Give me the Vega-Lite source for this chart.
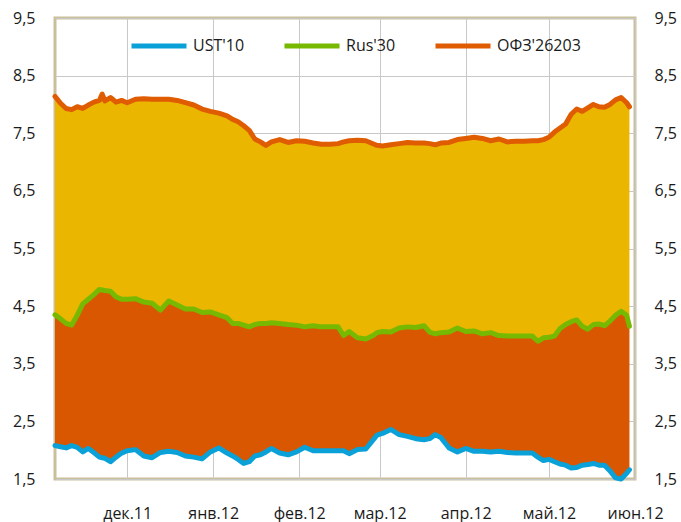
{
  "$schema": "https://vega.github.io/schema/vega-lite/v6.json",
  "autosize": {"type": "none"},
  "padding": {"left": 55, "top": 18, "right": 46, "bottom": 43},
  "width": 580,
  "height": 461,
  "background": "white",
  "data": {"values": [
    {"date":"2011-11-05","ust":2.08,"rus":4.35,"ofz":8.14},
    {"date":"2011-11-07","ust":2.06,"rus":4.28,"ofz":8.02},
    {"date":"2011-11-09","ust":2.04,"rus":4.20,"ofz":7.93},
    {"date":"2011-11-11","ust":2.08,"rus":4.17,"ofz":7.91},
    {"date":"2011-11-13","ust":2.05,"rus":4.34,"ofz":7.96},
    {"date":"2011-11-15","ust":1.97,"rus":4.54,"ofz":7.93},
    {"date":"2011-11-17","ust":2.03,"rus":4.62,"ofz":7.99},
    {"date":"2011-11-19","ust":1.96,"rus":4.70,"ofz":8.04},
    {"date":"2011-11-21","ust":1.88,"rus":4.79,"ofz":8.07},
    {"date":"2011-11-22","ust":1.87,"rus":4.78,"ofz":8.18},
    {"date":"2011-11-23","ust":1.86,"rus":4.77,"ofz":8.06},
    {"date":"2011-11-25","ust":1.80,"rus":4.76,"ofz":8.12},
    {"date":"2011-11-27","ust":1.88,"rus":4.66,"ofz":8.04},
    {"date":"2011-11-29","ust":1.95,"rus":4.62,"ofz":8.07},
    {"date":"2011-12-01","ust":1.99,"rus":4.62,"ofz":8.03},
    {"date":"2011-12-04","ust":2.01,"rus":4.63,"ofz":8.09},
    {"date":"2011-12-07","ust":1.90,"rus":4.57,"ofz":8.10},
    {"date":"2011-12-10","ust":1.87,"rus":4.55,"ofz":8.09},
    {"date":"2011-12-13","ust":1.96,"rus":4.43,"ofz":8.09},
    {"date":"2011-12-16","ust":1.98,"rus":4.59,"ofz":8.09},
    {"date":"2011-12-19","ust":1.96,"rus":4.52,"ofz":8.07},
    {"date":"2011-12-22","ust":1.90,"rus":4.45,"ofz":8.03},
    {"date":"2011-12-25","ust":1.88,"rus":4.45,"ofz":7.99},
    {"date":"2011-12-28","ust":1.85,"rus":4.39,"ofz":7.92},
    {"date":"2011-12-31","ust":1.97,"rus":4.40,"ofz":7.88},
    {"date":"2012-01-03","ust":2.04,"rus":4.35,"ofz":7.85},
    {"date":"2012-01-06","ust":1.95,"rus":4.30,"ofz":7.80},
    {"date":"2012-01-08","ust":1.90,"rus":4.20,"ofz":7.74},
    {"date":"2012-01-10","ust":1.84,"rus":4.20,"ofz":7.70},
    {"date":"2012-01-12","ust":1.77,"rus":4.17,"ofz":7.63},
    {"date":"2012-01-14","ust":1.80,"rus":4.14,"ofz":7.55},
    {"date":"2012-01-16","ust":1.90,"rus":4.18,"ofz":7.40},
    {"date":"2012-01-18","ust":1.92,"rus":4.20,"ofz":7.35},
    {"date":"2012-01-20","ust":1.97,"rus":4.20,"ofz":7.29},
    {"date":"2012-01-22","ust":2.03,"rus":4.21,"ofz":7.35},
    {"date":"2012-01-25","ust":1.95,"rus":4.20,"ofz":7.39},
    {"date":"2012-01-28","ust":1.92,"rus":4.18,"ofz":7.34},
    {"date":"2012-01-31","ust":1.97,"rus":4.17,"ofz":7.37},
    {"date":"2012-02-03","ust":2.05,"rus":4.14,"ofz":7.36},
    {"date":"2012-02-06","ust":1.99,"rus":4.16,"ofz":7.33},
    {"date":"2012-02-09","ust":1.99,"rus":4.14,"ofz":7.31},
    {"date":"2012-02-12","ust":1.99,"rus":4.14,"ofz":7.31},
    {"date":"2012-02-15","ust":1.99,"rus":4.14,"ofz":7.32},
    {"date":"2012-02-17","ust":1.99,"rus":3.99,"ofz":7.35},
    {"date":"2012-02-19","ust":1.94,"rus":4.06,"ofz":7.37},
    {"date":"2012-02-22","ust":2.01,"rus":3.95,"ofz":7.38},
    {"date":"2012-02-25","ust":2.02,"rus":3.93,"ofz":7.37},
    {"date":"2012-02-28","ust":2.20,"rus":4.00,"ofz":7.31},
    {"date":"2012-02-29","ust":2.26,"rus":4.04,"ofz":7.29},
    {"date":"2012-03-02","ust":2.29,"rus":4.06,"ofz":7.28},
    {"date":"2012-03-05","ust":2.36,"rus":4.05,"ofz":7.30},
    {"date":"2012-03-08","ust":2.27,"rus":4.12,"ofz":7.32},
    {"date":"2012-03-11","ust":2.24,"rus":4.14,"ofz":7.34},
    {"date":"2012-03-14","ust":2.20,"rus":4.13,"ofz":7.33},
    {"date":"2012-03-17","ust":2.18,"rus":4.16,"ofz":7.33},
    {"date":"2012-03-19","ust":2.20,"rus":4.05,"ofz":7.32},
    {"date":"2012-03-21","ust":2.27,"rus":4.02,"ofz":7.30},
    {"date":"2012-03-23","ust":2.22,"rus":4.04,"ofz":7.33},
    {"date":"2012-03-26","ust":2.04,"rus":4.05,"ofz":7.34},
    {"date":"2012-03-29","ust":1.97,"rus":4.12,"ofz":7.39},
    {"date":"2012-04-01","ust":2.03,"rus":4.06,"ofz":7.41},
    {"date":"2012-04-04","ust":1.98,"rus":4.07,"ofz":7.43},
    {"date":"2012-04-07","ust":1.98,"rus":4.02,"ofz":7.41},
    {"date":"2012-04-10","ust":1.97,"rus":4.04,"ofz":7.37},
    {"date":"2012-04-13","ust":1.98,"rus":3.99,"ofz":7.40},
    {"date":"2012-04-16","ust":1.96,"rus":3.98,"ofz":7.35},
    {"date":"2012-04-19","ust":1.95,"rus":3.98,"ofz":7.36},
    {"date":"2012-04-22","ust":1.95,"rus":3.98,"ofz":7.36},
    {"date":"2012-04-25","ust":1.95,"rus":3.98,"ofz":7.37},
    {"date":"2012-04-27","ust":1.88,"rus":3.89,"ofz":7.37},
    {"date":"2012-04-29","ust":1.82,"rus":3.95,"ofz":7.39},
    {"date":"2012-05-01","ust":1.84,"rus":3.96,"ofz":7.43},
    {"date":"2012-05-03","ust":1.80,"rus":3.98,"ofz":7.52},
    {"date":"2012-05-05","ust":1.76,"rus":4.11,"ofz":7.59},
    {"date":"2012-05-07","ust":1.74,"rus":4.18,"ofz":7.66},
    {"date":"2012-05-09","ust":1.69,"rus":4.23,"ofz":7.83},
    {"date":"2012-05-11","ust":1.70,"rus":4.26,"ofz":7.92},
    {"date":"2012-05-13","ust":1.74,"rus":4.15,"ofz":7.88},
    {"date":"2012-05-15","ust":1.75,"rus":4.10,"ofz":7.94},
    {"date":"2012-05-17","ust":1.77,"rus":4.18,"ofz":8.00},
    {"date":"2012-05-19","ust":1.74,"rus":4.19,"ofz":7.96},
    {"date":"2012-05-21","ust":1.74,"rus":4.16,"ofz":7.95},
    {"date":"2012-05-23","ust":1.64,"rus":4.24,"ofz":8.00},
    {"date":"2012-05-25","ust":1.52,"rus":4.34,"ofz":8.08},
    {"date":"2012-05-27","ust":1.50,"rus":4.41,"ofz":8.12},
    {"date":"2012-05-29","ust":1.60,"rus":4.34,"ofz":8.03},
    {"date":"2012-05-30","ust":1.66,"rus":4.15,"ofz":7.96}
  ]},
  "encoding": {
    "x": {
      "field": "date",
      "type": "temporal",
      "scale": {
        "type": "utc",
        "domain": [
          {"year": 2011, "month": 11, "date": 5, "utc": true},
          {"year": 2012, "month": 6, "date": 1, "utc": true}
        ]
      },
      "axis": {
        "title": null,
        "domain": false,
        "ticks": false,
        "grid": true,
        "gridColor": "#C8C8C8",
        "gridWidth": 1,
        "labelPadding": 26,
        "labelFontSize": 16,
        "labelColor": "#1a1a1a",
        "labelOverlap": false,
        "labelFlush": false,
        "values": [
          {"year": 2011, "month": 12, "date": 1, "utc": true},
          {"year": 2012, "month": 1, "date": 1, "utc": true},
          {"year": 2012, "month": 2, "date": 1, "utc": true},
          {"year": 2012, "month": 3, "date": 1, "utc": true},
          {"year": 2012, "month": 4, "date": 1, "utc": true},
          {"year": 2012, "month": 5, "date": 1, "utc": true},
          {"year": 2012, "month": 6, "date": 1, "utc": true}
        ],
        "labelExpr": "['янв','фев','мар','апр','май','июн','июл','авг','сен','окт','ноя','дек'][utcmonth(datum.value)] + '.' + utcFormat(datum.value, '%y')"
      }
    }
  },
  "layer": [
    {
      "mark": {"type": "area", "color": "#EAB600"},
      "encoding": {
        "y": {
          "field": "ofz",
          "type": "quantitative",
          "scale": {"domain": [1.5, 9.5], "nice": false, "zero": false},
          "axis": {
            "orient": "left",
            "title": null,
            "domain": false,
            "ticks": false,
            "grid": true,
            "gridColor": "#C8C8C8",
            "labelPadding": 20,
            "labelFontSize": 16,
            "labelColor": "#1a1a1a",
            "values": [1.5, 2.5, 3.5, 4.5, 5.5, 6.5, 7.5, 8.5, 9.5],
            "labelExpr": "replace(format(datum.value, '.1f'), '.', ',')"
          }
        },
        "y2": {"field": "rus"}
      }
    },
    {
      "mark": {"type": "area", "color": "#D85700"},
      "encoding": {
        "y": {"field": "rus", "type": "quantitative", "axis": null},
        "y2": {"field": "ust"}
      }
    },
    {
      "transform": [{"fold": ["ust", "rus", "ofz"], "as": ["series", "value"]}],
      "mark": {"type": "line", "strokeWidth": 5, "strokeJoin": "round", "strokeCap": "round"},
      "encoding": {
        "y": {
          "field": "value",
          "type": "quantitative",
          "axis": {
            "orient": "right",
            "title": null,
            "domain": false,
            "ticks": false,
            "grid": false,
            "labelPadding": 19,
            "labelFontSize": 16,
            "labelColor": "#1a1a1a",
            "values": [1.5, 2.5, 3.5, 4.5, 5.5, 6.5, 7.5, 8.5, 9.5],
            "labelExpr": "replace(format(datum.value, '.1f'), '.', ',')"
          }
        },
        "color": {
          "field": "series",
          "type": "nominal",
          "scale": {"domain": ["ust", "rus", "ofz"], "range": ["#0AA0D8", "#76B900", "#E05C00"]},
          "legend": {
            "title": null,
            "orient": "none",
            "direction": "horizontal",
            "legendX": 74,
            "legendY": -2,
            "padding": 0,
            "symbolType": "stroke",
            "symbolSize": 3025,
            "symbolStrokeWidth": 5,
            "labelFontSize": 16,
            "labelColor": "#1a1a1a",
            "labelOffset": 4,
            "columnPadding": 29,
            "labelExpr": "datum.label == 'ust' ? \"UST'10\" : datum.label == 'rus' ? \"Rus'30\" : \"ОФЗ'26203\""
          }
        }
      }
    }
  ],
  "resolve": {"axis": {"y": "independent"}},
  "config": {
    "font": "Open Sans",
    "view": {"stroke": "#C9C09A", "strokeWidth": 3},
    "axis": {"labelFont": "Open Sans"},
    "legend": {"labelFont": "Open Sans"}
  }
}
